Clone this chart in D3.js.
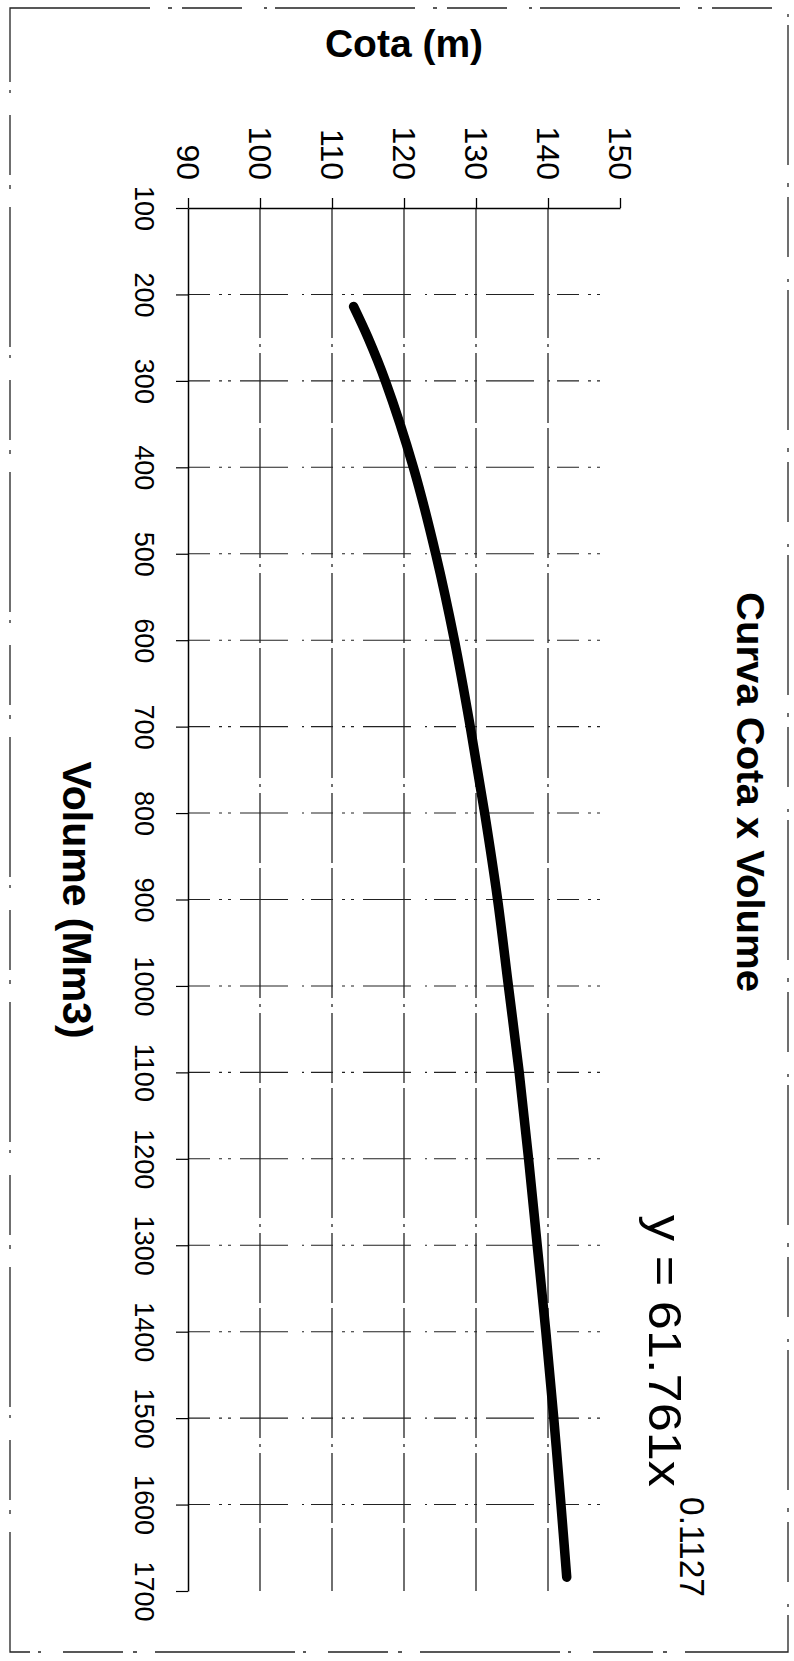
<!DOCTYPE html>
<html>
<head>
<meta charset="utf-8">
<script src="https://cdn.jsdelivr.net/npm/d3@7/dist/d3.min.js"></script>
<style>
  html, body { margin: 0; padding: 0; background: #fff; }
  svg { display: block; }
  text { font-family: "Liberation Sans", Arial, sans-serif; fill: #000; }
</style>
</head>
<body>
<svg id="chart" width="794" height="1661"></svg>
<script>
// ---- data ----
const volumeData = [214, 250, 300, 400, 500, 600, 700, 800, 900, 1000, 1100, 1200, 1300, 1400, 1500, 1600, 1684];
const cotaData   = [113.0, 115.0, 117.4, 121.3, 124.4, 127.0, 129.2, 131.2, 133.0, 134.5, 136.0, 137.3, 138.5, 139.7, 140.8, 141.8, 142.6];
const cotaTicks   = [90, 100, 110, 120, 130, 140, 150];
const volumeTicks = [100, 200, 300, 400, 500, 600, 700, 800, 900, 1000, 1100, 1200, 1300, 1400, 1500, 1600, 1700];
const cotaGrid    = [100, 110, 120, 130, 140];
const volumeGrid  = [200, 300, 400, 500, 600, 700, 800, 900, 1000, 1100, 1200, 1300, 1400, 1500, 1600];
const titleText  = "Curva Cota x Volume";
const cotaLabel  = "Cota (m)";
const volLabel   = "Volume (Mm3)";
const eqMain     = "y = 61.761x";
const eqExp      = "0.1127";

// ---- layout (chart is drawn rotated: cota runs left->right, volume top->bottom) ----
const svg = d3.select("#chart");
const x = d3.scaleLinear().domain([90, 150]).range([188, 620]);
const y = d3.scaleLinear().domain([100, 1700]).range([208, 1591]);

// outer (scanned) frame
svg.append("rect")
  .attr("x", 10).attr("y", 8).attr("width", 778).attr("height", 1644)
  .attr("fill", "none").attr("stroke", "#222").attr("stroke-width", 1.3)
  .attr("stroke-dasharray", "140,18,4,10,60,22,3,8");

// gridlines
const grid = svg.append("g");
grid.selectAll("line.v").data(cotaGrid).join("line")
  .attr("class", "v")
  .attr("x1", d => x(d)).attr("x2", d => x(d))
  .attr("y1", y(100)).attr("y2", y(1700))
  .attr("stroke", "#111").attr("stroke-width", 1.2)
  .attr("stroke-dasharray", "130,6,3,6,70,5");
grid.selectAll("line.h").data(volumeGrid).join("line")
  .attr("class", "h")
  .attr("x1", x(90)).attr("x2", x(148))
  .attr("y1", d => y(d)).attr("y2", d => y(d))
  .attr("stroke", "#222").attr("stroke-width", 1.1)
  .attr("stroke-dasharray", "22,9,3,6,3,9,48,14,2,7");

// top axis (Cota)
const axTop = svg.append("g")
  .attr("transform", `translate(0,${y(100)})`)
  .call(d3.axisTop(x).tickValues(cotaTicks).tickSize(10).tickSizeOuter(0).tickFormat(d3.format("d")));
axTop.select(".domain").attr("stroke", "#000").attr("stroke-width", 1.5);
axTop.selectAll(".tick line").attr("stroke", "#000").attr("stroke-width", 1.3);
axTop.selectAll(".tick text")
  .attr("x", 0).attr("y", 0).attr("dy", "0.35em")
  .attr("transform", "translate(0,-28) rotate(90)")
  .attr("text-anchor", "end")
  .style("font-size", "32px")
  .style("font-family", "'Liberation Sans', Arial, sans-serif");

// left axis (Volume)
const axLeft = svg.append("g")
  .attr("transform", `translate(${x(90)},0)`)
  .call(d3.axisLeft(y).tickValues(volumeTicks).tickSize(12).tickSizeOuter(0).tickFormat(d3.format("d")));
axLeft.select(".domain").attr("stroke", "#000").attr("stroke-width", 1.5);
axLeft.selectAll(".tick line").attr("stroke", "#000").attr("stroke-width", 1.2);
axLeft.selectAll(".tick text")
  .attr("x", 0).attr("y", 0).attr("dy", "0.35em")
  .attr("transform", "translate(-44,0) rotate(90)")
  .attr("text-anchor", "middle")
  .style("font-size", "27px")
  .style("font-family", "'Liberation Sans', Arial, sans-serif");

// curve
const pts = volumeData.map((v, i) => [v, cotaData[i]]);
svg.append("path")
  .datum(pts)
  .attr("fill", "none").attr("stroke", "#000").attr("stroke-width", 9.5)
  .attr("stroke-linecap", "round").attr("stroke-linejoin", "round")
  .attr("d", d3.line().x(d => x(d[1])).y(d => y(d[0])).curve(d3.curveCatmullRom.alpha(0.5)));

// titles
svg.append("text")
  .attr("x", 404).attr("y", 57)
  .attr("text-anchor", "middle")
  .style("font-size", "39px").style("font-weight", "bold")
  .text(cotaLabel);

svg.append("text")
  .attr("transform", "translate(63,900) rotate(90)")
  .attr("text-anchor", "middle")
  .style("font-size", "41px").style("font-weight", "bold")
  .text(volLabel);

svg.append("text")
  .attr("transform", "translate(737,592) rotate(90)")
  .attr("textLength", 400).attr("lengthAdjust", "spacingAndGlyphs")
  .style("font-size", "38px").style("font-weight", "bold")
  .text(titleText);

// regression equation
svg.append("text")
  .attr("transform", "translate(649,1215) rotate(90)")
  .attr("textLength", 272).attr("lengthAdjust", "spacingAndGlyphs")
  .style("font-size", "47px")
  .text(eqMain);
svg.append("text")
  .attr("transform", "translate(680,1497) rotate(90)")
  .attr("textLength", 100).attr("lengthAdjust", "spacingAndGlyphs")
  .style("font-size", "35px")
  .text(eqExp);
</script>
</body>
</html>
